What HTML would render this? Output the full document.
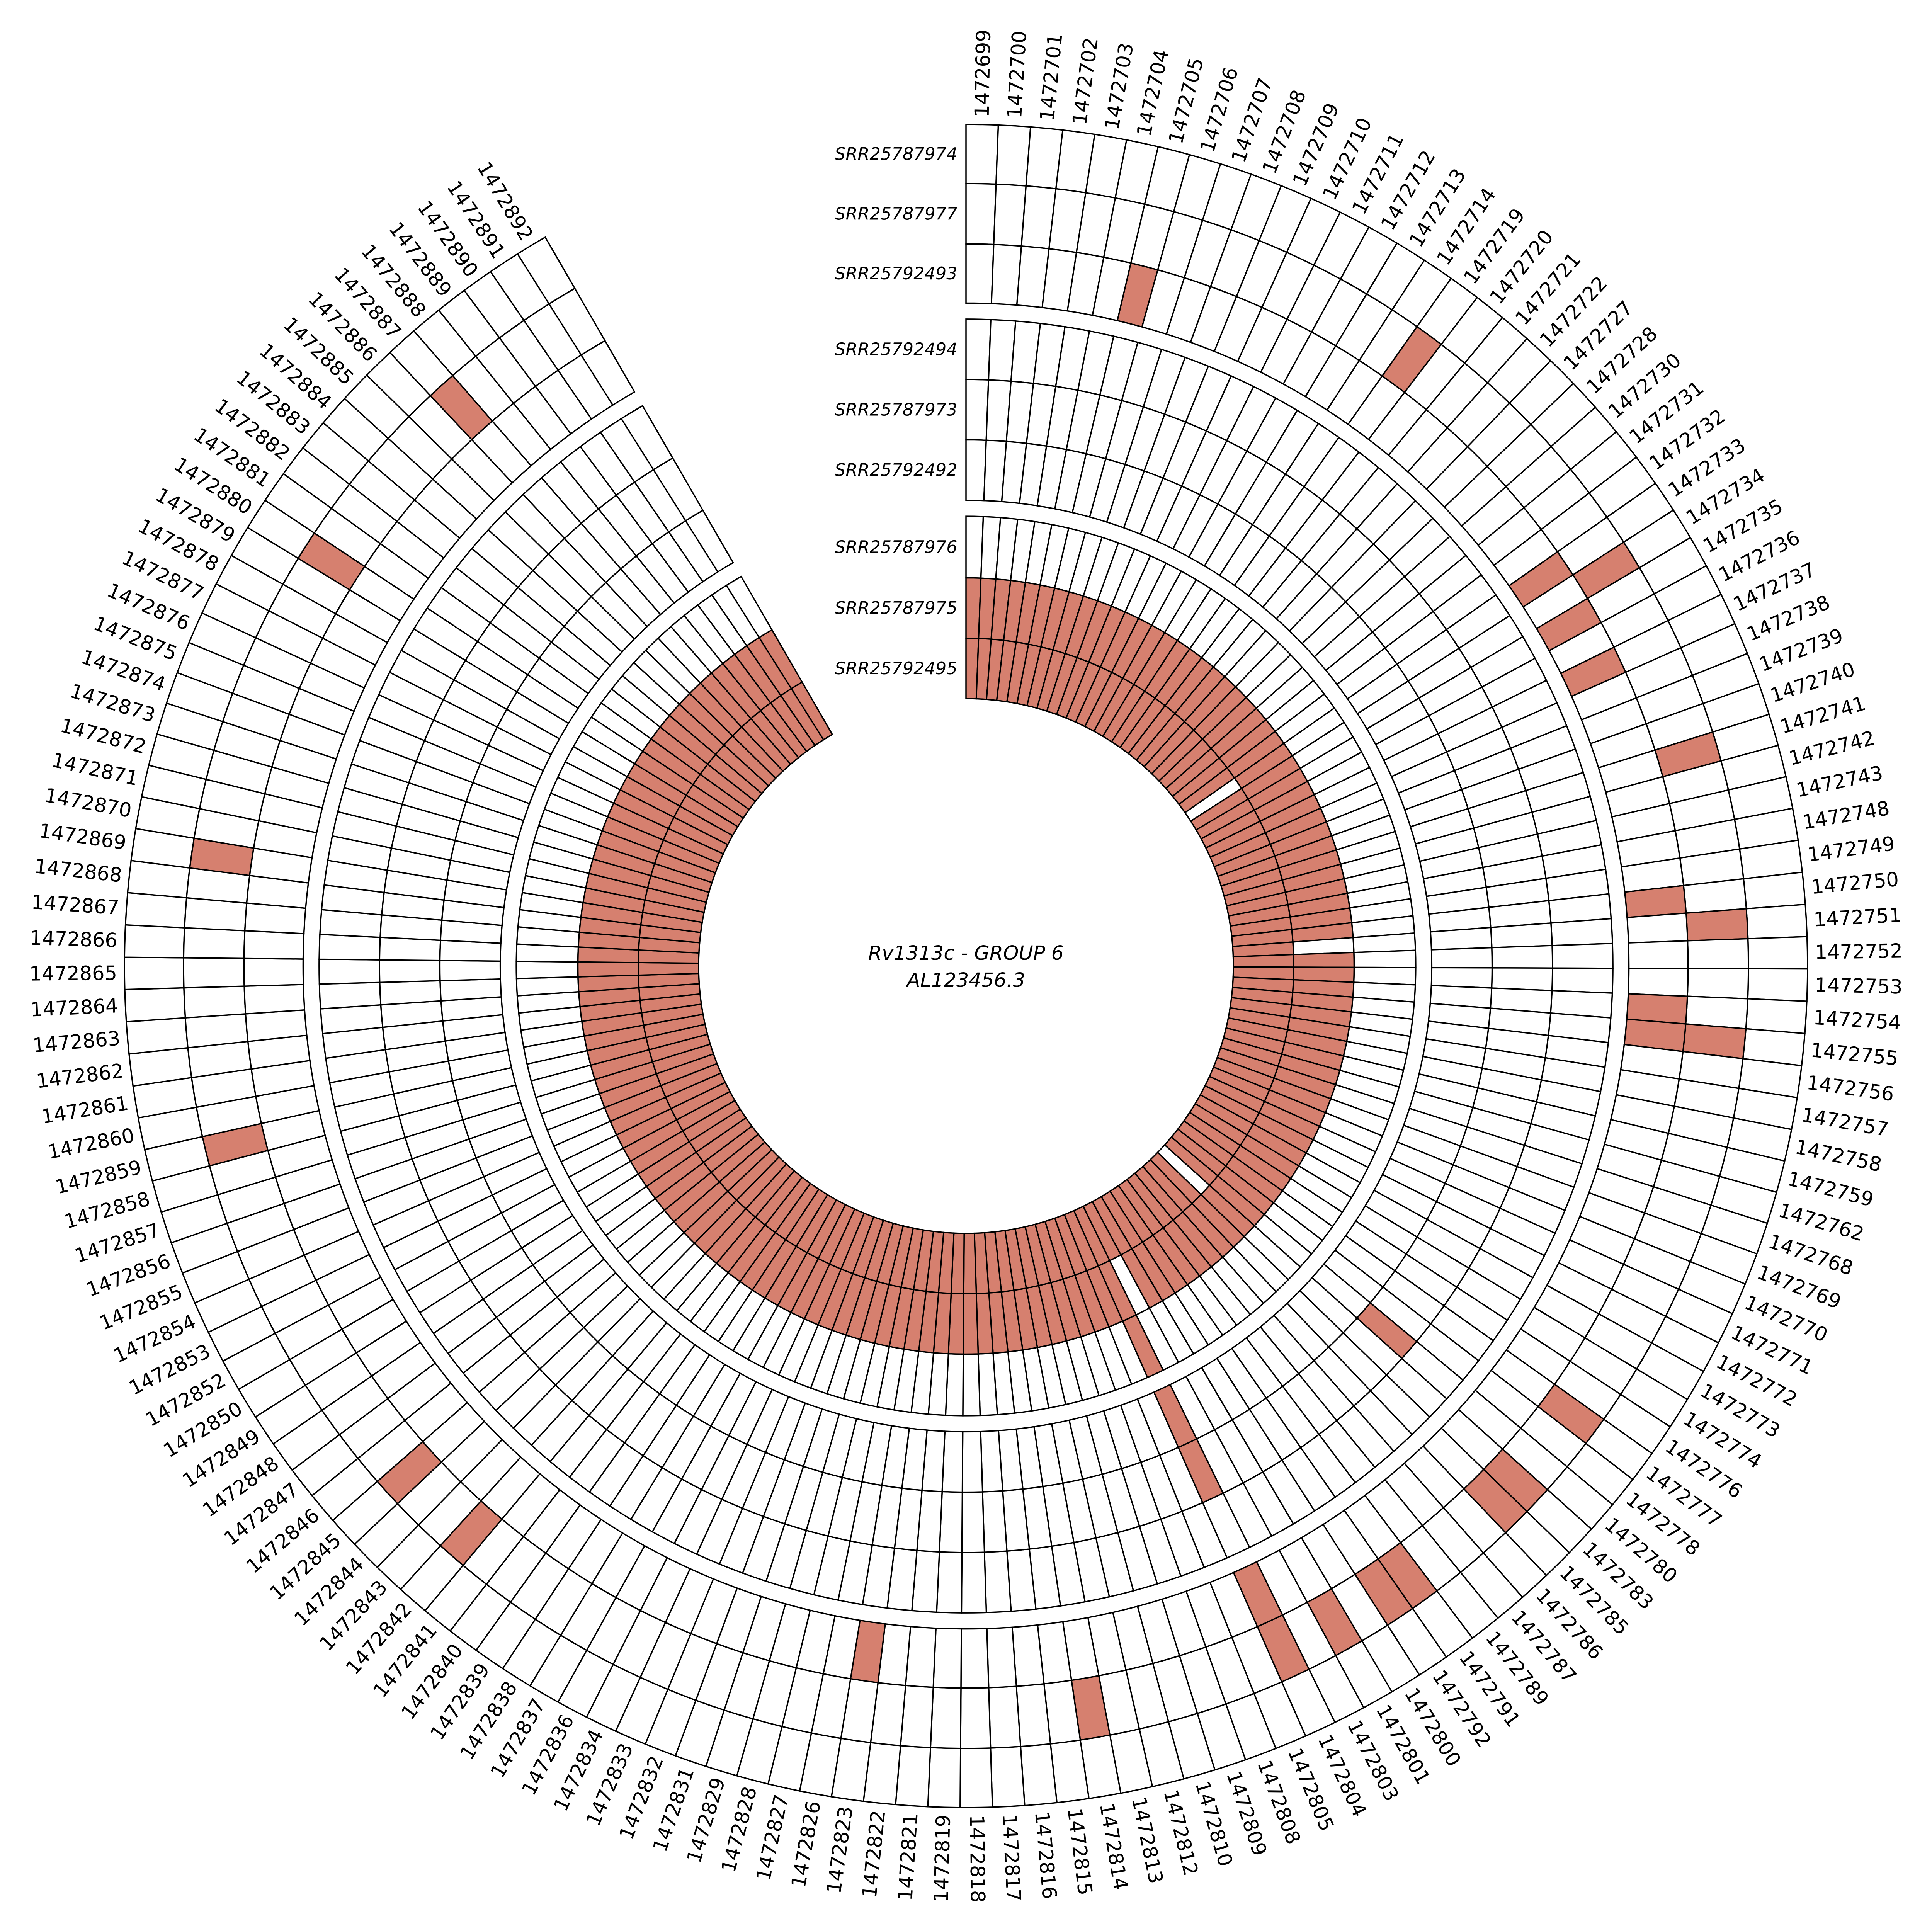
<!DOCTYPE html>
<html><head><meta charset="utf-8"><title>Rv1313c - GROUP 6</title>
<style>html,body{margin:0;padding:0;background:#fff;overflow:hidden;width:100%;height:100%}svg{display:block;position:fixed;left:0;top:0;width:100vw;height:100vh}</style></head>
<body>
<svg id="chart" xmlns="http://www.w3.org/2000/svg" viewBox="0 0 1568 1568" preserveAspectRatio="xMidYMid meet">
<rect x="0" y="0" width="1568" height="1568" fill="#fff"/>
<g id="cells"></g>
<g id="collabels"></g>
<g id="tracklabels"></g>
<text x="784" y="779" text-anchor="middle" font-family="DejaVu Sans, Liberation Sans, sans-serif" font-style="italic" font-size="16">Rv1313c - GROUP 6</text>
<text x="784" y="801" text-anchor="middle" font-family="DejaVu Sans, Liberation Sans, sans-serif" font-style="italic" font-size="16">AL123456.3</text>
</svg>
<script>
const positions = [1472699,1472700,1472701,1472702,1472703,1472704,1472705,1472706,1472707,1472708,
1472709,1472710,1472711,1472712,1472713,1472714,1472719,1472720,1472721,1472722,
1472727,1472728,1472730,1472731,1472732,1472733,1472734,1472735,1472736,1472737,
1472738,1472739,1472740,1472741,1472742,1472743,1472748,1472749,1472750,1472751,
1472752,1472753,1472754,1472755,1472756,1472757,1472758,1472759,1472762,1472768,
1472769,1472770,1472771,1472772,1472773,1472774,1472776,1472777,1472778,1472780,
1472783,1472785,1472786,1472787,1472789,1472791,1472792,1472800,1472801,1472803,
1472804,1472805,1472808,1472809,1472810,1472812,1472813,1472814,1472815,1472816,
1472817,1472818,1472819,1472821,1472822,1472823,1472826,1472827,1472828,1472829,
1472831,1472832,1472833,1472834,1472836,1472837,1472838,1472839,1472840,1472841,
1472842,1472843,1472844,1472845,1472846,1472847,1472848,1472849,1472850,1472852,
1472853,1472854,1472855,1472856,1472857,1472858,1472859,1472860,1472861,1472862,
1472863,1472864,1472865,1472866,1472867,1472868,1472869,1472870,1472871,1472872,
1472873,1472874,1472875,1472876,1472877,1472878,1472879,1472880,1472881,1472882,
1472883,1472884,1472885,1472886,1472887,1472888,1472889,1472890,1472891,1472892];

const sampleNames = ["SRR25787974","SRR25787977","SRR25792493","SRR25792494","SRR25787973","SRR25792492","SRR25787976","SRR25787975","SRR25792495"];

const valsSRR25787974 = [0,0,0,0,0,0,0,0,0,0, 0,0,0,0,0,0,0,0,0,0, 0,0,0,0,0,0,0,0,0,0, 0,0,0,0,0,0,0,0,0,0, 0,0,0,0,0,0,0,0,0,0, 0,0,0,0,0,0,0,0,0,0, 0,0,0,0,0,0,0,0,0,0, 0,0,0,0,0,0,0,0,0,0, 0,0,0,0,0,0,0,0,0,0, 0,0,0,0,0,0,0,0,0,0, 0,0,0,0,0,0,0,0,0,0, 0,0,0,0,0,0,0,0,0,0, 0,0,0,0,0,0,0,0,0,0, 0,0,0,0,0,0,0,0,0,0, 0,0,0,0,0,0,0,0,0,0];
const valsSRR25787977 = [0,0,0,0,0,0,0,0,0,0, 0,0,0,0,0,0,1,0,0,0, 0,0,0,0,0,0,1,0,0,0, 0,0,0,1,0,0,0,0,0,1, 0,0,0,1,0,0,0,0,0,0, 0,0,0,0,0,0,0,1,0,0, 1,1,0,0,0,1,1,0,1,0, 1,0,0,0,0,0,0,1,0,0, 0,0,0,0,0,0,0,0,0,0, 0,0,0,0,0,0,0,0,0,0, 1,0,0,1,0,0,0,0,0,0, 0,0,0,0,0,0,1,0,0,0, 0,0,0,0,0,0,1,0,0,0, 0,0,0,0,0,0,0,1,0,0, 0,0,0,0,1,0,0,0,0,0];
const valsSRR25792493 = [0,0,0,0,0,0,1,0,0,0, 0,0,0,0,0,0,0,0,0,0, 0,0,0,0,0,1,0,1,0,1, 0,0,0,0,0,0,0,0,1,0, 0,0,1,1,0,0,0,0,0,0, 0,0,0,0,0,0,0,0,0,0, 0,0,0,0,0,0,0,0,0,0, 1,0,0,0,0,0,0,0,0,0, 0,0,0,0,0,1,0,0,0,0, 0,0,0,0,0,0,0,0,0,0, 0,0,0,0,0,0,0,0,0,0, 0,0,0,0,0,0,0,0,0,0, 0,0,0,0,0,0,0,0,0,0, 0,0,0,0,0,0,0,0,0,0, 0,0,0,0,0,0,0,0,0,0];
const valsSRR25792494 = [0,0,0,0,0,0,0,0,0,0, 0,0,0,0,0,0,0,0,0,0, 0,0,0,0,0,0,0,0,0,0, 0,0,0,0,0,0,0,0,0,0, 0,0,0,0,0,0,0,0,0,0, 0,0,0,0,0,0,0,0,0,0, 0,0,0,0,0,0,0,0,0,0, 0,0,0,0,0,0,0,0,0,0, 0,0,0,0,0,0,0,0,0,0, 0,0,0,0,0,0,0,0,0,0, 0,0,0,0,0,0,0,0,0,0, 0,0,0,0,0,0,0,0,0,0, 0,0,0,0,0,0,0,0,0,0, 0,0,0,0,0,0,0,0,0,0, 0,0,0,0,0,0,0,0,0,0];
const valsSRR25787973 = [0,0,0,0,0,0,0,0,0,0, 0,0,0,0,0,0,0,0,0,0, 0,0,0,0,0,0,0,0,0,0, 0,0,0,0,0,0,0,0,0,0, 0,0,0,0,0,0,0,0,0,0, 0,0,0,0,0,0,0,0,0,1, 0,0,0,0,0,0,0,0,0,0, 1,0,0,0,0,0,0,0,0,0, 0,0,0,0,0,0,0,0,0,0, 0,0,0,0,0,0,0,0,0,0, 0,0,0,0,0,0,0,0,0,0, 0,0,0,0,0,0,0,0,0,0, 0,0,0,0,0,0,0,0,0,0, 0,0,0,0,0,0,0,0,0,0, 0,0,0,0,0,0,0,0,0,0];
const valsSRR25792492 = [0,0,0,0,0,0,0,0,0,0, 0,0,0,0,0,0,0,0,0,0, 0,0,0,0,0,0,0,0,0,0, 0,0,0,0,0,0,0,0,0,0, 0,0,0,0,0,0,0,0,0,0, 0,0,0,0,0,0,0,0,0,0, 0,0,0,0,0,0,0,0,0,0, 1,0,0,0,0,0,0,0,0,0, 0,0,0,0,0,0,0,0,0,0, 0,0,0,0,0,0,0,0,0,0, 0,0,0,0,0,0,0,0,0,0, 0,0,0,0,0,0,0,0,0,0, 0,0,0,0,0,0,0,0,0,0, 0,0,0,0,0,0,0,0,0,0, 0,0,0,0,0,0,0,0,0,0];
const valsSRR25787976 = [0,0,0,0,0,0,0,0,0,0, 0,0,0,0,0,0,0,0,0,0, 0,0,0,0,0,0,0,0,0,0, 0,0,0,0,0,0,0,0,0,0, 0,0,0,0,0,0,0,0,0,0, 0,0,0,0,0,0,0,0,0,0, 0,0,0,0,0,0,0,0,0,0, 1,0,0,0,0,0,0,0,0,0, 0,0,0,0,0,0,0,0,0,0, 0,0,0,0,0,0,0,0,0,0, 0,0,0,0,0,0,0,0,0,0, 0,0,0,0,0,0,0,0,0,0, 0,0,0,0,0,0,0,0,0,0, 0,0,0,0,0,0,0,0,0,0, 0,0,0,0,0,0,0,0,0,0];
const valsSRR25787975 = [1,1,1,1,1,1,1,1,1,1, 1,1,1,1,1,1,1,1,1,1, 1,1,1,1,1,1,1,1,1,1, 1,1,1,1,1,1,1,1,1,0, 1,1,1,1,1,1,1,1,1,1, 1,1,1,1,1,1,1,1,1,1, 1,1,1,1,1,1,1,1,1,0, 1,1,1,1,1,1,1,1,1,1, 1,1,1,1,1,1,1,1,1,1, 1,1,1,1,1,1,1,1,1,1, 1,1,1,1,1,1,1,1,1,1, 1,1,1,1,1,1,1,1,1,1, 1,1,1,1,1,1,1,1,1,1, 1,1,1,1,1,1,1,1,1,1, 1,1,1,1,1,1,1,1,1,1];
const valsSRR25792495 = [1,1,1,1,1,1,1,1,1,1, 1,1,1,1,1,1,1,1,1,1, 1,1,1,1,1,0,1,1,1,1, 1,1,1,1,1,1,1,1,1,1, 1,1,1,1,1,1,1,1,1,1, 1,1,1,1,1,1,1,1,1,1, 0,1,1,1,1,1,1,1,1,1, 1,1,1,1,1,1,1,1,1,1, 1,1,1,1,1,1,1,1,1,1, 1,1,1,1,1,1,1,1,1,1, 1,1,1,1,1,1,1,1,1,1, 1,1,1,1,1,1,1,1,1,1, 1,1,1,1,1,1,1,1,1,1, 1,1,1,1,1,1,1,1,1,1, 1,1,1,1,1,1,1,1,1,1];

const seriesValues = [valsSRR25787974,valsSRR25787977,valsSRR25792493,valsSRR25792494,valsSRR25787973,valsSRR25792492,valsSRR25787976,valsSRR25787975,valsSRR25792495];

(function(){
  const NS = "http://www.w3.org/2000/svg";
  const cx = 784, cy = 784;
  const arcSpan = 330;
  const W = arcSpan / positions.length;
  const trackR = [[683,635],[635,586],[586,538],[525,476],[476,427],[427,378],[365,315],[315,266],[266,217]];
  const FILL = "#d6806f";
  function angle(i){ return i * W; }
  function pt(r,a){ const t=a*Math.PI/180; return [cx + r*Math.sin(t), cy - r*Math.cos(t)]; }
  function sector(r1,r0,a0,a1){
    const p1=pt(r1,a0),p2=pt(r1,a1),p3=pt(r0,a1),p4=pt(r0,a0);
    return "M"+p1[0].toFixed(2)+","+p1[1].toFixed(2)+
      "A"+r1+","+r1+" 0 0 1 "+p2[0].toFixed(2)+","+p2[1].toFixed(2)+
      "L"+p3[0].toFixed(2)+","+p3[1].toFixed(2)+
      "A"+r0+","+r0+" 0 0 0 "+p4[0].toFixed(2)+","+p4[1].toFixed(2)+"Z";
  }
  const cells = document.getElementById("cells");
  for (let t=0;t<sampleNames.length;t++){
    const vals = seriesValues[t];
    for (let i=0;i<positions.length;i++){
      const p = document.createElementNS(NS,"path");
      p.setAttribute("d", sector(trackR[t][0], trackR[t][1], angle(i), angle(i+1)));
      p.setAttribute("fill", vals[i] ? FILL : "#ffffff");
      p.setAttribute("stroke", "#000");
      p.setAttribute("stroke-width", "1.1");
      
      
      cells.appendChild(p);
    }
  }
  const cl = document.getElementById("collabels");
  for (let i=0;i<positions.length;i++){
    const m = angle(i+0.5);
    const p = pt(689, m);
    const tx = document.createElementNS(NS,"text");
    tx.setAttribute("x", p[0].toFixed(2));
    tx.setAttribute("y", p[1].toFixed(2));
    let rot, anchor;
    if (m < 180){ rot = m - 90; anchor = "start"; } else { rot = m + 90; anchor = "end"; }
    tx.setAttribute("transform", "rotate("+rot.toFixed(3)+" "+p[0].toFixed(2)+" "+p[1].toFixed(2)+")");
    tx.setAttribute("text-anchor", anchor);
    tx.setAttribute("dominant-baseline", "central");
    tx.setAttribute("font-family", "DejaVu Sans, Liberation Sans, sans-serif");
    tx.setAttribute("font-size", "16");
    tx.textContent = String(positions[i]);
    
    
    cl.appendChild(tx);
  }
  const tl = document.getElementById("tracklabels");
  for (let t=0;t<sampleNames.length;t++){
    const rm = (trackR[t][0]+trackR[t][1])/2;
    const tx = document.createElementNS(NS,"text");
    tx.setAttribute("x", "777");
    tx.setAttribute("y", (cy - rm).toFixed(2));
    tx.setAttribute("text-anchor", "end");
    tx.setAttribute("dominant-baseline", "central");
    tx.setAttribute("font-family", "DejaVu Sans, Liberation Sans, sans-serif");
    tx.setAttribute("font-style", "italic");
    tx.setAttribute("font-size", "14");
    tx.textContent = sampleNames[t];
    
    
    tl.appendChild(tx);
  }
})();
</script>
</body></html>
